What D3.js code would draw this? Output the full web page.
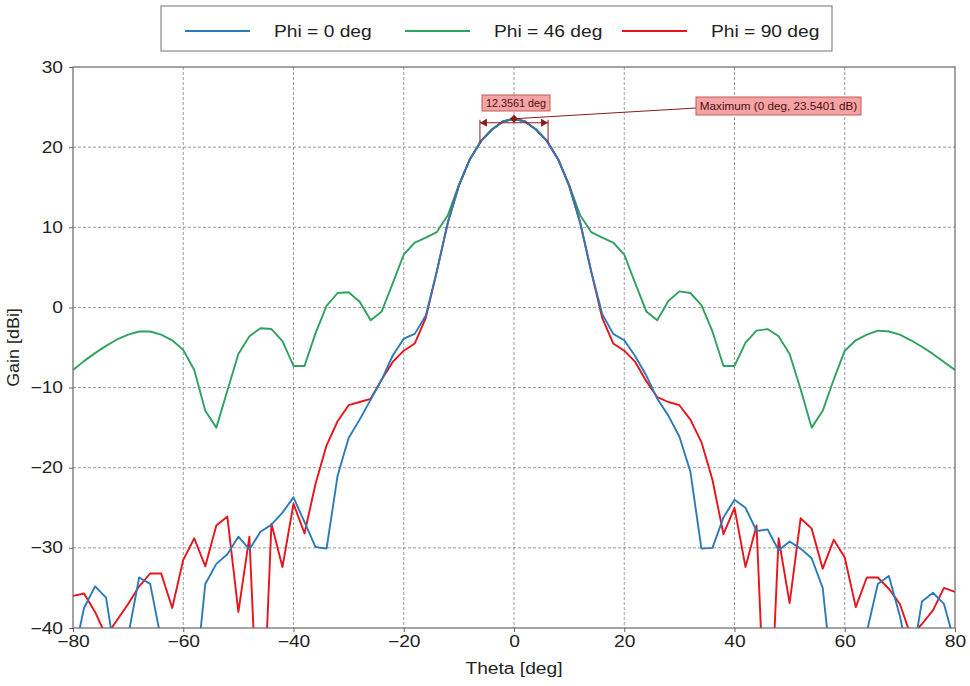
<!DOCTYPE html>
<html>
<head>
<meta charset="utf-8">
<script src="https://cdn.jsdelivr.net/npm/d3@7"></script>
<style>
  html, body { margin: 0; padding: 0; background: #fff; }
  svg { display: block; font-family: "Liberation Sans", Arial, sans-serif; }
</style>
</head>
<body>
<svg id="chart" width="970" height="686"></svg>
<script>
// ---------- data ----------
const theta = [-80,-78,-76,-74,-72,-70,-68,-66,-64,-62,-60,-58,-56,-54,-52,-50,-48,-46,-44,-42,-40,-38,-36,-34,-32,-30,-28,-26,-24,-22,-20,-18,-16,-14,-12,-10,-8,-6,-4,-2,0,2,4,6,8,10,12,14,16,18,20,22,24,26,28,30,32,34,36,38,40,42,44,46,48,50,52,54,56,58,60,62,64,66,68,70,72,74,76,78,80];

const gainPhi0 = [-44,-37.5,-34.8,-36.2,-45,-41,-33.7,-34.5,-41.5,-50,-52,-48,-34.5,-32,-30.8,-28.6,-30.2,-28,-27.1,-25.6,-23.7,-26.8,-29.9,-30.1,-21,-16.3,-14,-11.5,-9,-6,-3.9,-3.3,-1.0,4.5,10.6,15.2,18.5,20.75,22.2,23.2,23.54,23.2,22.2,20.75,18.5,15.2,10.6,4.5,-0.8,-3.3,-4.1,-6.1,-8.5,-11.4,-13.5,-16.1,-20.5,-30.1,-30,-26.2,-24,-25,-27.9,-27.7,-30.3,-29.2,-30.1,-31.3,-35,-48,-52,-50,-40.5,-34.5,-33.5,-38.5,-45,-36.7,-35.6,-37,-42];

const gainPhi46 = [-7.8,-6.7,-5.7,-4.8,-4.0,-3.4,-3.0,-3.0,-3.4,-4.1,-5.3,-7.8,-12.9,-15,-10.4,-5.8,-3.6,-2.6,-2.7,-4.2,-7.3,-7.3,-3.2,0.2,1.8,1.9,0.7,-1.6,-0.5,3.0,6.6,8.1,8.7,9.4,11.5,15.3,18.5,20.75,22.2,23.2,23.54,23.2,22.2,20.75,18.5,15.3,11.5,9.4,8.7,8.1,6.6,3.0,-0.5,-1.6,0.8,2.0,1.8,0.3,-3.0,-7.3,-7.3,-4.4,-2.9,-2.7,-3.6,-5.8,-10.2,-15,-12.9,-9.0,-5.4,-4.1,-3.4,-2.9,-3.0,-3.4,-4.1,-4.9,-5.8,-6.8,-7.8];

const gainPhi90 = [-36,-35.7,-38,-41,-39,-37,-34.8,-33.2,-33.2,-37.5,-31.5,-28.8,-32.3,-27.2,-26.1,-38,-28.6,-60,-27,-32.4,-24.5,-28.2,-22,-17.2,-14.2,-12.2,-11.8,-11.4,-9,-6.8,-5.4,-4.5,-1.3,4.5,10.6,15.2,18.5,20.75,22.2,23.2,23.54,23.2,22.2,20.75,18.5,15.2,10.6,4.5,-1.3,-4.5,-5.4,-6.8,-9.2,-11.2,-11.8,-12.2,-14,-16.8,-21.5,-28.3,-25,-32.4,-27.2,-60,-28.8,-36.9,-26.3,-27.6,-32.6,-29,-31.2,-37.4,-33.7,-33.7,-35.1,-37,-41,-39.5,-37.8,-35,-35.5];

const seriesNames = ["Phi = 0 deg", "Phi = 46 deg", "Phi = 90 deg"];
const seriesColors = ["#2b7bba", "#2ea25e", "#e8131b"];

const xTicks = [-80,-60,-40,-20,0,20,40,60,80];
const yTicks = [30,20,10,0,-10,-20,-30,-40];

const peakTheta = 0, peakGain = 23.5401;
const hpbw = 12.3561;
const hpbwLabel = "12.3561 deg";
const maxLabel = "Maximum (0 deg, 23.5401 dB)";

// ---------- layout ----------
const svg = d3.select("#chart");
const L = 73, R = 955, T = 67, B = 628;
const FONT = "16px";

const x = d3.scaleLinear().domain([-80, 80]).range([L, R]);
const y = d3.scaleLinear().domain([-40, 30]).range([B, T]);

function stretch(sel, f) {
  sel.each(function () {
    const w = this.getComputedTextLength();
    d3.select(this).attr("textLength", w * f).attr("lengthAdjust", "spacingAndGlyphs");
  });
}

// grid
const grid = svg.append("g");
grid.selectAll("line.vg").data(xTicks.slice(1, -1)).join("line")
  .attr("x1", d => x(d)).attr("x2", d => x(d)).attr("y1", T).attr("y2", B)
  .attr("stroke", "#9a9a9a").attr("stroke-width", 1).attr("stroke-dasharray", "3,2");
grid.selectAll("line.hg").data(yTicks.slice(1, -1)).join("line")
  .attr("y1", d => y(d)).attr("y2", d => y(d)).attr("x1", L).attr("x2", R)
  .attr("stroke", "#9a9a9a").attr("stroke-width", 1).attr("stroke-dasharray", "3,2");

// clip
svg.append("defs").append("clipPath").attr("id", "plotclip")
  .append("rect").attr("x", L).attr("y", T).attr("width", R - L).attr("height", B - T);

// lines
const allSeries = [gainPhi0, gainPhi46, gainPhi90];
const lineGen = d3.line().x((d, i) => x(theta[i])).y(d => y(d));
const plot = svg.append("g").attr("clip-path", "url(#plotclip)");
const drawOrder = [1, 2, 0];
drawOrder.forEach(k => {
  plot.append("path").datum(allSeries[k])
    .attr("fill", "none").attr("stroke", seriesColors[k])
    .attr("stroke-width", 1.9).attr("stroke-linejoin", "round")
    .attr("d", lineGen);
});

// frame
svg.append("rect").attr("x", L).attr("y", T).attr("width", R - L).attr("height", B - T)
  .attr("fill", "none").attr("stroke", "#666").attr("stroke-width", 1.2);

// axes
const xAxis = d3.axisBottom(x).tickValues(xTicks).tickSize(4).tickPadding(4);
const yAxis = d3.axisLeft(y).tickValues(yTicks).tickSize(4).tickPadding(6);
const gx = svg.append("g").attr("transform", `translate(0,${B})`).call(xAxis);
const gy = svg.append("g").attr("transform", `translate(${L},0)`).call(yAxis);
[gx, gy].forEach(g => {
  g.select(".domain").remove();
  g.selectAll(".tick line").attr("stroke", "#666");
  g.selectAll(".tick text").attr("fill", "#222").style("font-size", FONT)
    .style("font-family", "'Liberation Sans', Arial, sans-serif");
});

// axis titles
const xt = svg.append("text").attr("x", x(0)).attr("y", 674).attr("text-anchor", "middle")
  .attr("fill", "#222").style("font-size", FONT).text("Theta [deg]");
const yt = svg.append("text").attr("transform", `translate(19,${(T + B) / 2}) rotate(-90)`)
  .attr("text-anchor", "middle").attr("fill", "#222").style("font-size", FONT).text("Gain [dBi]");

// legend
const lg = svg.append("g");
lg.append("rect").attr("x", 161).attr("y", 6).attr("width", 671).attr("height", 45)
  .attr("fill", "#fff").attr("stroke", "#8a8a8a").attr("stroke-width", 1.2);
const legendX = [185, 405, 622];
seriesNames.forEach((name, i) => {
  lg.append("line").attr("x1", legendX[i]).attr("x2", legendX[i] + 65)
    .attr("y1", 31).attr("y2", 31).attr("stroke", seriesColors[i]).attr("stroke-width", 1.9);
  lg.append("text").attr("class", "lgt").attr("x", legendX[i] + 89).attr("y", 37).attr("fill", "#222")
    .style("font-size", FONT).text(name);
});

// annotations
const ann = svg.append("g");
const annStroke = "#8b1a1a";
const xl = x(peakTheta - hpbw / 2), xr = x(peakTheta + hpbw / 2);
const y3 = y(peakGain - 3), yArrow = y(peakGain) + 4, yPeak = y(peakGain);
ann.append("line").attr("x1", xl).attr("x2", xl).attr("y1", yArrow - 3).attr("y2", y3)
  .attr("stroke", annStroke).attr("stroke-width", 1);
ann.append("line").attr("x1", xr).attr("x2", xr).attr("y1", yArrow - 3).attr("y2", y3)
  .attr("stroke", annStroke).attr("stroke-width", 1);
ann.append("line").attr("x1", xl).attr("x2", xr).attr("y1", yArrow).attr("y2", yArrow)
  .attr("stroke", annStroke).attr("stroke-width", 1);
ann.append("path").attr("d", `M${xl},${yArrow} l7,-4 l0,8 z`).attr("fill", annStroke);
ann.append("path").attr("d", `M${xr},${yArrow} l-7,-4 l0,8 z`).attr("fill", annStroke);

const hbW = 68, hbH = 16;
ann.append("rect").attr("x", x(peakTheta) - hbW / 2 + 2).attr("y", 95).attr("width", hbW).attr("height", hbH)
  .attr("fill", "#f5a3a3").attr("stroke", "#c45a5a").attr("stroke-width", 1);
const hbt = ann.append("text").attr("x", x(peakTheta) + 2).attr("y", 107).attr("text-anchor", "middle")
  .attr("fill", "#4a1010").style("font-size", "10px").text(hpbwLabel);

const mbX = 696, mbY = 97, mbW = 165, mbH = 18;
ann.append("line").attr("x1", x(peakTheta)).attr("y1", yPeak).attr("x2", mbX).attr("y2", mbY + 11)
  .attr("stroke", annStroke).attr("stroke-width", 1);
ann.append("rect").attr("x", mbX).attr("y", mbY).attr("width", mbW).attr("height", mbH)
  .attr("fill", "#f5a3a3").attr("stroke", "#c45a5a").attr("stroke-width", 1);
const mbt = ann.append("text").attr("x", mbX + mbW / 2).attr("y", mbY + 13).attr("text-anchor", "middle")
  .attr("fill", "#4a1010").style("font-size", "10px").text(maxLabel);

ann.append("path").attr("d", `M${x(peakTheta)},${yPeak - 4} l4,4 l-4,4 l-4,-4 z`).attr("fill", annStroke);

// widen text to match the reference's horizontally stretched lettering
stretch(gx.selectAll(".tick text"), 1.2);
stretch(gy.selectAll(".tick text"), 1.2);
stretch(xt, 1.2);
stretch(yt, 1.12);
stretch(lg.selectAll("text.lgt"), 1.2);
stretch(hbt, 1.08);
stretch(mbt, 1.17);
</script>
</body>
</html>
